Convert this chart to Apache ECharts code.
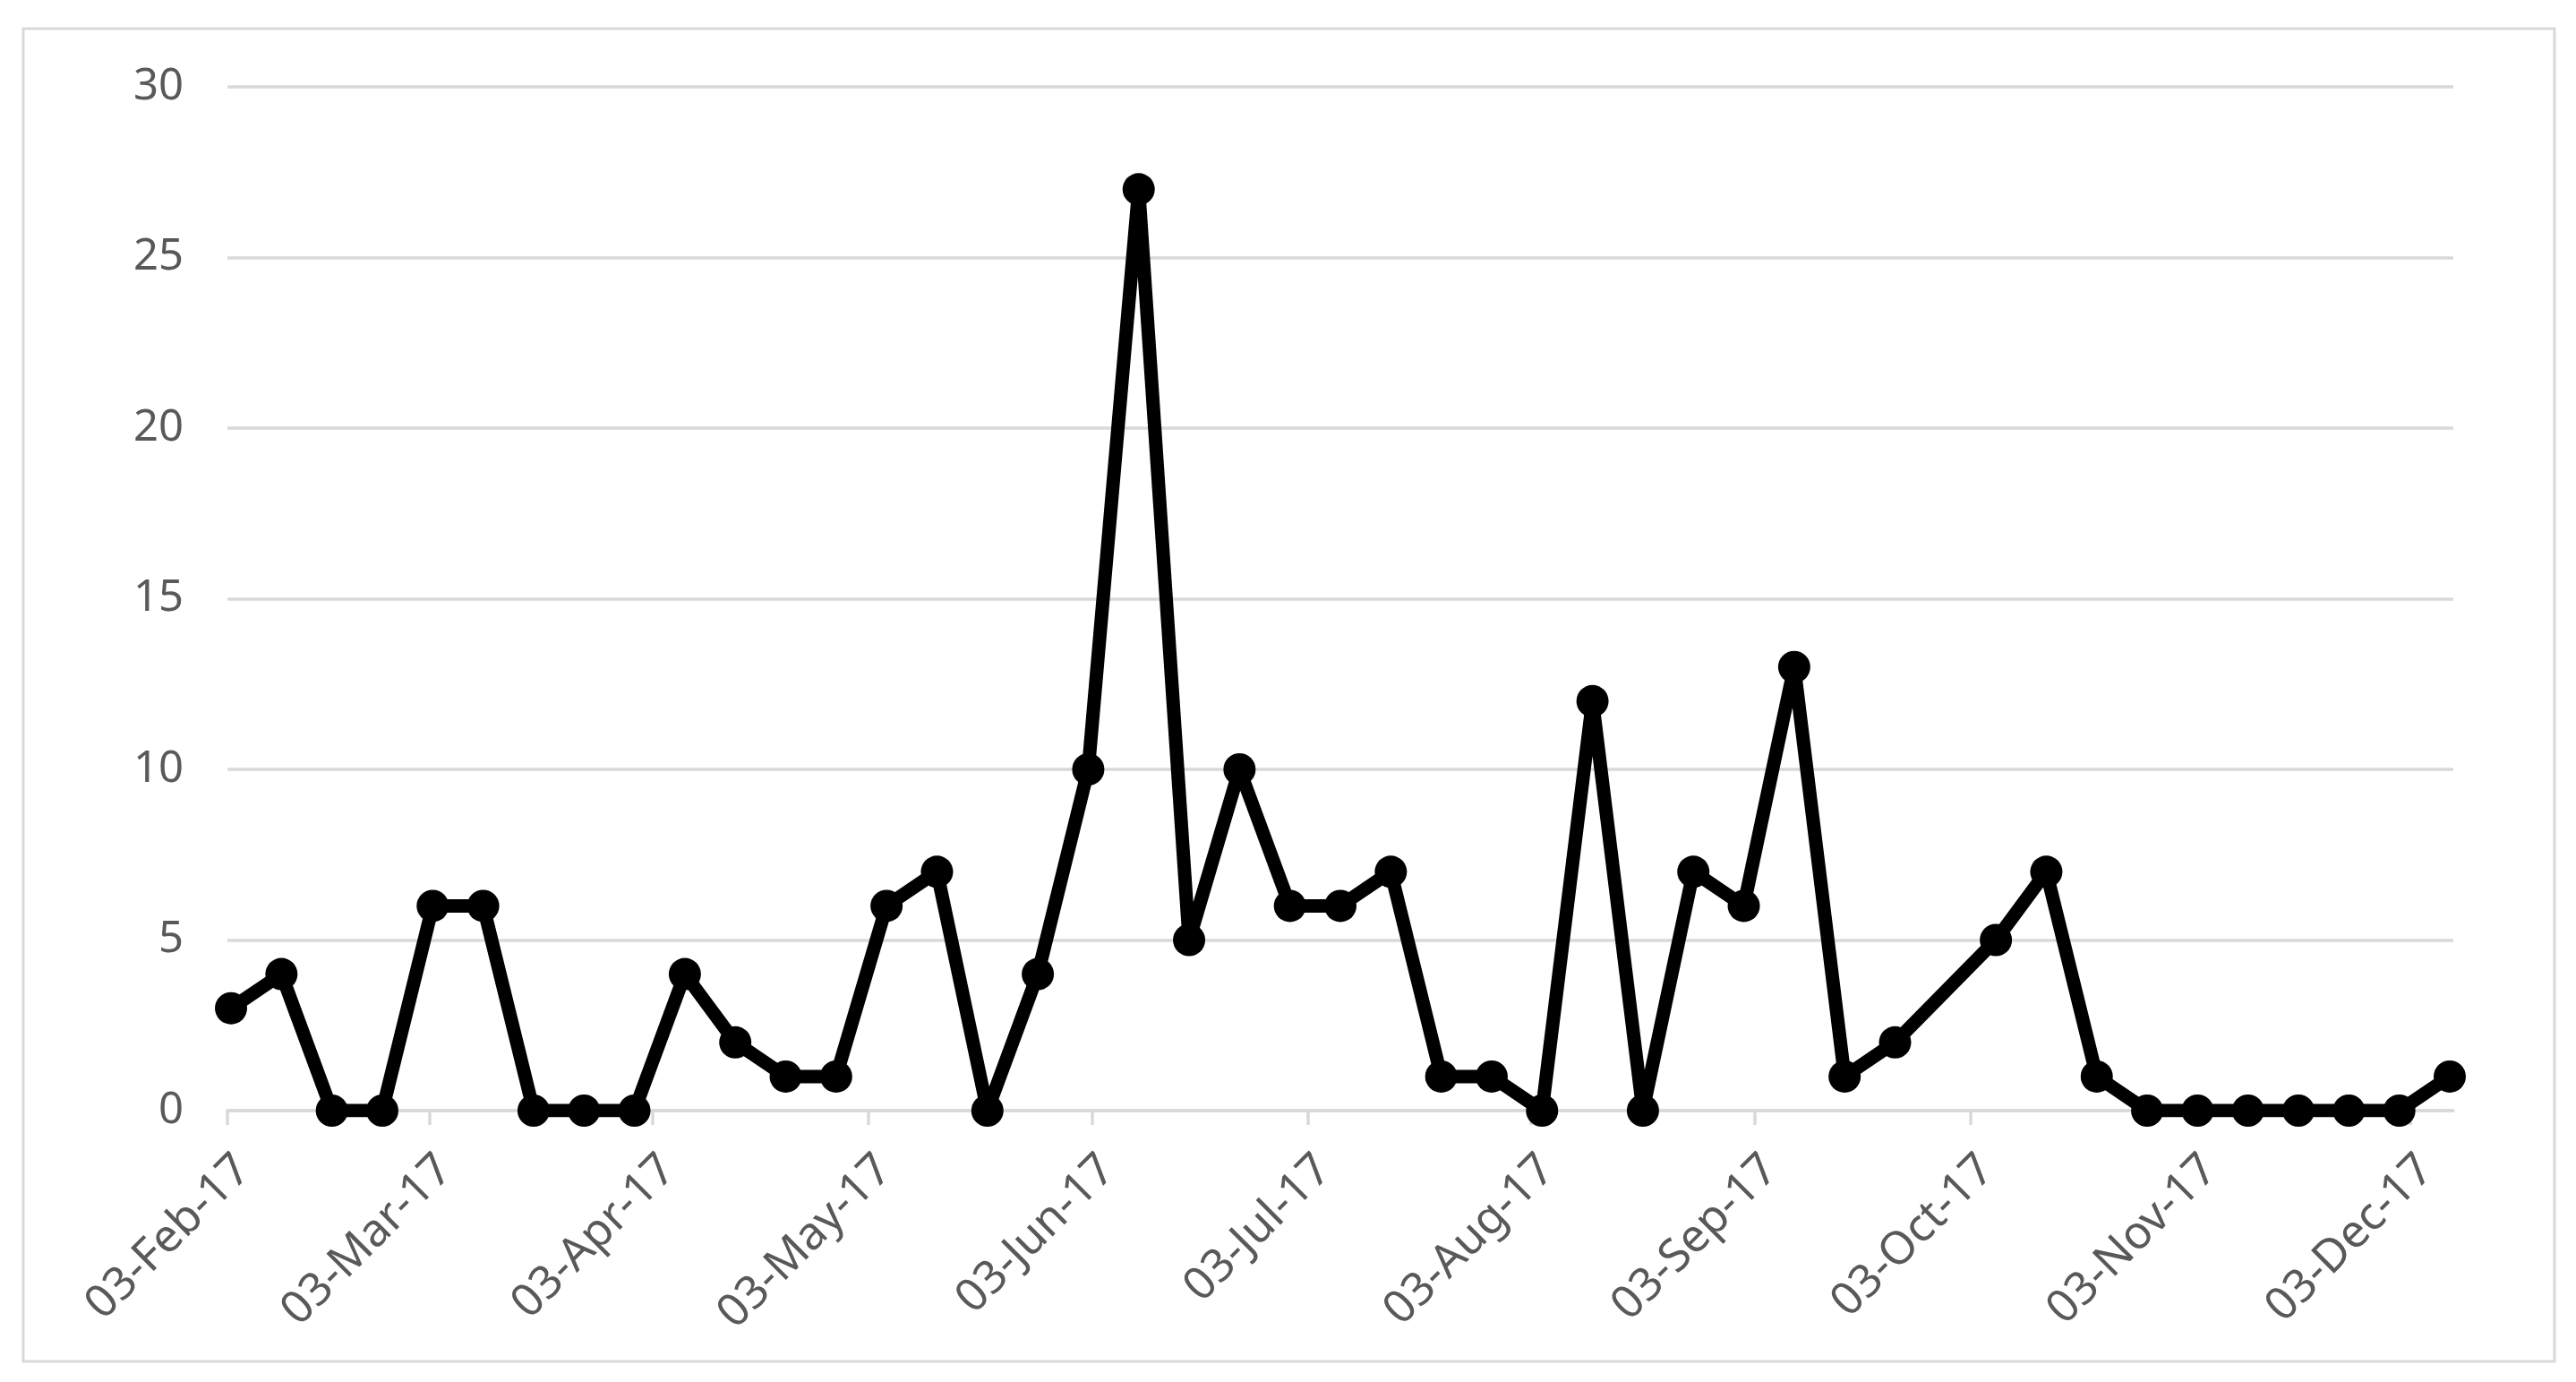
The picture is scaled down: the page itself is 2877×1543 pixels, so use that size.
<!DOCTYPE html>
<html>
<head>
<meta charset="utf-8">
<script src="https://cdn.jsdelivr.net/npm/echarts@6/dist/echarts.min.js"></script>
<style>
html,body{margin:0;padding:0;background:#fff;}
#chart{width:2877px;height:1543px;}
</style>
</head>
<body>
<div id="chart"></div>
<script>
// ---- data ----
const dates = [
  '2017-02-03','2017-02-10','2017-02-17','2017-02-24',
  '2017-03-03','2017-03-10','2017-03-17','2017-03-24','2017-03-31',
  '2017-04-07','2017-04-14','2017-04-21','2017-04-28',
  '2017-05-05','2017-05-12','2017-05-19','2017-05-26',
  '2017-06-02','2017-06-09','2017-06-16','2017-06-23','2017-06-30',
  '2017-07-07','2017-07-14','2017-07-21','2017-07-28',
  '2017-08-04','2017-08-11','2017-08-18','2017-08-25',
  '2017-09-01','2017-09-08','2017-09-15','2017-09-22',
  '2017-10-06','2017-10-13','2017-10-20','2017-10-27',
  '2017-11-03','2017-11-10','2017-11-17','2017-11-24',
  '2017-12-01','2017-12-08'
];
const values = [
  3,4,0,0,
  6,6,0,0,0,
  4,2,1,1,
  6,7,0,4,
  10,27,5,10,6,
  6,7,1,1,
  0,12,0,7,
  6,13,1,2,
  5,7,1,0,
  0,0,0,0,
  0,1
];
const tickDates = [
  '2017-02-03','2017-03-03','2017-04-03','2017-05-03','2017-06-03','2017-07-03',
  '2017-08-03','2017-09-03','2017-10-03','2017-11-03','2017-12-03'
];
const axisStart = '2017-02-03';
const axisEnd = '2017-12-09';
const yTicks = [0, 5, 10, 15, 20, 25, 30];
const monthNames = ['Jan','Feb','Mar','Apr','May','Jun','Jul','Aug','Sep','Oct','Nov','Dec'];

// ---- helpers ----
function toTs(s, hour) {
  const p = s.split('-').map(Number);
  return new Date(p[0], p[1] - 1, p[2], hour || 0).getTime();
}
function fmt(ts) {
  const d = new Date(ts);
  const dd = String(d.getDate()).padStart(2, '0');
  const yy = String(d.getFullYear() % 100).padStart(2, '0');
  return dd + '-' + monthNames[d.getMonth()] + '-' + yy;
}
const seriesData = dates.map((d, i) => [toTs(d, 12), values[i]]);
const tickTs = tickDates.map(d => toTs(d, 0));

const FONT = 'Noto Sans';
const GRID_COLOR = '#d9d9d9';
const TEXT_COLOR = '#595959';

const chart = echarts.init(document.getElementById('chart'), null, {renderer: 'canvas'});
chart.setOption({
  animation: false,
  backgroundColor: '#ffffff',
  graphic: [{
    type: 'rect',
    shape: {x: 26, y: 32, width: 2827, height: 1488},
    style: {fill: 'none', stroke: GRID_COLOR, lineWidth: 3},
    silent: true
  }],
  grid: {left: 254, right: 137, top: 97, bottom: 303, containLabel: false},
  xAxis: {
    type: 'value',
    min: toTs(axisStart, 0),
    max: toTs(axisEnd, 0),
    scale: true,
    axisLine: {show: true, onZero: false, lineStyle: {color: GRID_COLOR, width: 3.5}},
    axisTick: {show: true, customValues: tickTs, length: 16, lineStyle: {color: GRID_COLOR, width: 3.5}},
    axisLabel: {
      show: true,
      customValues: tickTs,
      formatter: (v) => fmt(v),
      rotate: 45,
      verticalAlign: 'top',
      margin: 40,
      hideOverlap: false,
      color: TEXT_COLOR,
      fontFamily: FONT,
      fontSize: 51
    },
    splitLine: {show: false}
  },
  yAxis: {
    type: 'value',
    min: yTicks[0],
    max: yTicks[yTicks.length - 1],
    interval: yTicks[1] - yTicks[0],
    axisLine: {show: false},
    axisTick: {show: false},
    axisLabel: {color: TEXT_COLOR, fontFamily: FONT, fontSize: 49, margin: 49},
    splitLine: {show: true, lineStyle: {color: GRID_COLOR, width: 3.5}}
  },
  series: [{
    type: 'line',
    data: seriesData,
    symbol: 'circle',
    symbolSize: 36,
    showSymbol: true,
    lineStyle: {color: '#000000', width: 15},
    itemStyle: {color: '#000000'},
    z: 5
  }]
});
</script>
</body>
</html>
